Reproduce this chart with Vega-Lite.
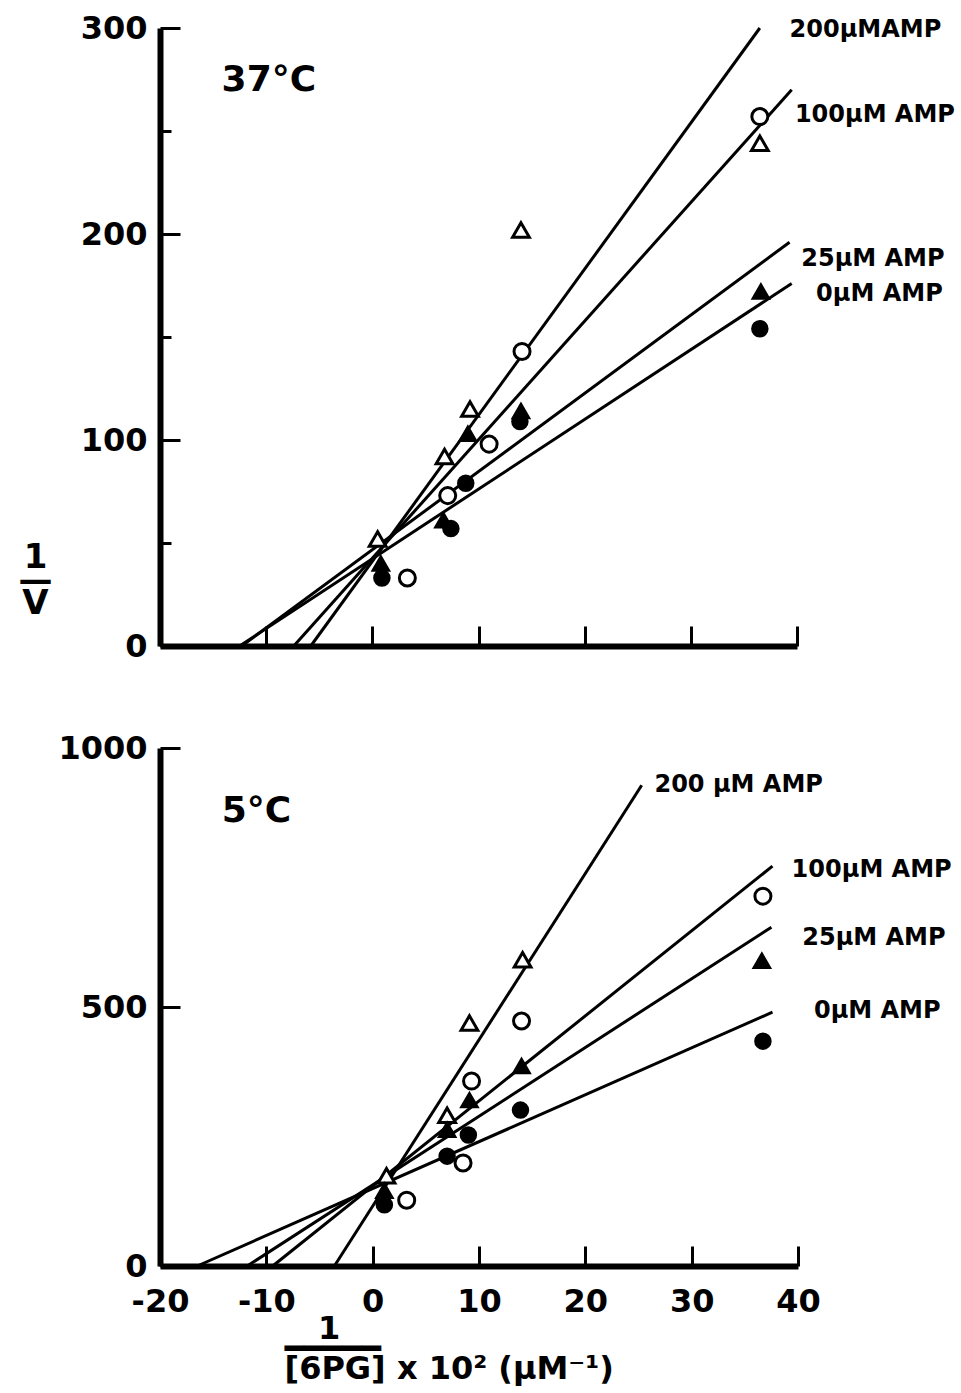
{
  "$schema": "https://vega.github.io/schema/vega-lite/v6.json",
  "background": "white",
  "padding": {"left": 18, "top": 12, "right": 0, "bottom": 10},
  "config": {
    "font": "DejaVu Sans",
    "view": {"stroke": null},
    "axis": {
      "grid": false,
      "domainColor": "black",
      "domainWidth": 6,
      "tickColor": "black",
      "tickWidth": 3,
      "labelColor": "black",
      "labelFontSize": 32,
      "labelFontWeight": "bold",
      "labelFlush": false,
      "titleColor": "black",
      "titleFontWeight": "bold"
    }
  },
  "datasets": {
    "lines37": [
      {"series": "200", "x": -5.8, "y": 0}, {"series": "200", "x": 36.5, "y": 300},
      {"series": "100", "x": -7.4, "y": 0}, {"series": "100", "x": 39.5, "y": 270},
      {"series": "25", "x": -12.3, "y": 0}, {"series": "25", "x": 39.3, "y": 196},
      {"series": "0", "x": -12.5, "y": 0}, {"series": "0", "x": 39.5, "y": 176}
    ],
    "pts37": [
      {"series": "200", "x": 36.5, "y": 244}, {"series": "200", "x": 14.0, "y": 202}, {"series": "200", "x": 9.2, "y": 115}, {"series": "200", "x": 6.8, "y": 92}, {"series": "200", "x": 0.5, "y": 52},
      {"series": "100", "x": 36.5, "y": 257}, {"series": "100", "x": 14.1, "y": 143}, {"series": "100", "x": 11.0, "y": 98}, {"series": "100", "x": 7.1, "y": 73}, {"series": "100", "x": 3.3, "y": 33},
      {"series": "25", "x": 36.6, "y": 172}, {"series": "25", "x": 14.0, "y": 114}, {"series": "25", "x": 9.0, "y": 103}, {"series": "25", "x": 6.7, "y": 61}, {"series": "25", "x": 0.8, "y": 40},
      {"series": "0", "x": 36.5, "y": 154}, {"series": "0", "x": 13.9, "y": 109}, {"series": "0", "x": 8.8, "y": 79}, {"series": "0", "x": 7.4, "y": 57}, {"series": "0", "x": 0.9, "y": 33}
    ],
    "labels37": [
      {"text": "200µMAMP", "x": 39.3, "y": 299},
      {"text": "100µM AMP", "x": 39.8, "y": 258},
      {"text": "25µM AMP", "x": 40.4, "y": 188},
      {"text": "0µM AMP", "x": 41.8, "y": 171}
    ],
    "lines5": [
      {"series": "200", "x": -3.6, "y": 0}, {"series": "200", "x": 25.3, "y": 928},
      {"series": "100", "x": -9.4, "y": 0}, {"series": "100", "x": 37.6, "y": 772},
      {"series": "25", "x": -11.8, "y": 0}, {"series": "25", "x": 37.5, "y": 654},
      {"series": "0", "x": -16.5, "y": 0}, {"series": "0", "x": 37.6, "y": 490}
    ],
    "pts5": [
      {"series": "200", "x": 14.1, "y": 591}, {"series": "200", "x": 9.1, "y": 469}, {"series": "200", "x": 7.0, "y": 291}, {"series": "200", "x": 1.3, "y": 174},
      {"series": "100", "x": 36.7, "y": 714}, {"series": "100", "x": 14.0, "y": 473}, {"series": "100", "x": 9.3, "y": 357}, {"series": "100", "x": 8.5, "y": 199}, {"series": "100", "x": 3.2, "y": 127},
      {"series": "25", "x": 36.6, "y": 589}, {"series": "25", "x": 14.0, "y": 386}, {"series": "25", "x": 9.1, "y": 320}, {"series": "25", "x": 7.0, "y": 263}, {"series": "25", "x": 1.1, "y": 145},
      {"series": "0", "x": 36.7, "y": 434}, {"series": "0", "x": 13.9, "y": 301}, {"series": "0", "x": 9.0, "y": 253}, {"series": "0", "x": 7.0, "y": 212}, {"series": "0", "x": 1.1, "y": 118}
    ],
    "labels5": [
      {"text": "200 µM AMP", "x": 26.5, "y": 928},
      {"text": "100µM AMP", "x": 39.4, "y": 764},
      {"text": "25µM AMP", "x": 40.4, "y": 633},
      {"text": "0µM AMP", "x": 41.5, "y": 492}
    ]
  },
  "spacing": 70,
  "vconcat": [
    {
      "width": 637,
      "height": 618,
      "resolve": {"axis": {"y": "independent"}},
      "layer": [
        {
          "data": {"name": "lines37"},
          "mark": {"type": "line", "color": "black", "strokeWidth": 3},
          "encoding": {
            "x": {"field": "x", "type": "quantitative", "scale": {"domain": [-20, 40], "nice": false, "zero": false},
                  "axis": {"values": [-20, -10, 0, 10, 20, 30, 40], "labels": false, "title": null, "tickSize": -20}},
            "y": {"field": "y", "type": "quantitative", "scale": {"domain": [0, 300], "nice": false},
                  "axis": {"values": [0, 100, 200, 300], "tickSize": -20, "labelPadding": 33,
                           "title": ["1", "—", "V"], "titleAngle": 0, "titleX": -125, "titleY": 512,
                           "titleAlign": "center", "titleBaseline": "top", "titleFontSize": 34, "titleLineHeight": 23}},
            "detail": {"field": "series"}
          }
        },
        {
          "data": {"name": "pts37"},
          "mark": {"type": "point", "filled": true, "stroke": "black", "strokeWidth": 3, "opacity": 1},
          "encoding": {
            "x": {"field": "x", "type": "quantitative"},
            "y": {"field": "y", "type": "quantitative",
                  "axis": {"values": [50, 150, 250], "tickSize": -11, "labels": false, "domain": false, "title": null, "orient": "left"}},
            "shape": {"field": "series", "type": "nominal", "scale": {"domain": ["0", "25", "100", "200"], "range": ["circle", "triangle-up", "circle", "triangle-up"]}, "legend": null},
            "fill": {"field": "series", "type": "nominal", "scale": {"domain": ["0", "25", "100", "200"], "range": ["black", "black", "white", "white"]}, "legend": null},
            "size": {"field": "series", "type": "nominal", "scale": {"domain": ["0", "25", "100", "200"], "range": [210, 280, 210, 280]}, "legend": null}
          }
        },
        {
          "data": {"name": "labels37"},
          "mark": {"type": "text", "align": "left", "baseline": "middle", "fontSize": 24, "fontWeight": "bold", "color": "black"},
          "encoding": {
            "x": {"field": "x", "type": "quantitative"},
            "y": {"field": "y", "type": "quantitative", "axis": null},
            "text": {"field": "text"}
          }
        },
        {
          "data": {"values": [{"text": "37°C", "x": -14.2, "y": 275}]},
          "mark": {"type": "text", "align": "left", "baseline": "middle", "fontSize": 36, "fontWeight": "bold", "color": "black"},
          "encoding": {
            "x": {"field": "x", "type": "quantitative"},
            "y": {"field": "y", "type": "quantitative", "axis": null},
            "text": {"field": "text"}
          }
        }
      ]
    },
    {
      "width": 638,
      "height": 518,
      "layer": [
        {
          "data": {"name": "lines5"},
          "mark": {"type": "line", "color": "black", "strokeWidth": 3},
          "encoding": {
            "x": {"field": "x", "type": "quantitative", "scale": {"domain": [-20, 40], "nice": false, "zero": false},
                  "axis": {"values": [-20, -10, 0, 10, 20, 30, 40], "tickSize": -20, "labelPadding": 40,
                           "labelExpr": "datum.value < 0 ? '-' + abs(datum.value) : '' + datum.value",
                           "title": ["\u200b\u00a0\u00a0\u00a01", "━━━━━", "[6PG] x 10² (µM⁻¹)"],
                           "titleAlign": "left", "titleX": 124, "titleY": 47, "titleBaseline": "top",
                           "titleFontSize": 32, "titleLineHeight": 20}},
            "y": {"field": "y", "type": "quantitative", "scale": {"domain": [0, 1000], "nice": false},
                  "axis": {"values": [0, 500, 1000], "format": "d", "tickSize": -20, "labelPadding": 33, "title": null}},
            "detail": {"field": "series"}
          }
        },
        {
          "data": {"name": "pts5"},
          "mark": {"type": "point", "filled": true, "stroke": "black", "strokeWidth": 3, "opacity": 1},
          "encoding": {
            "x": {"field": "x", "type": "quantitative"},
            "y": {"field": "y", "type": "quantitative"},
            "shape": {"field": "series", "type": "nominal", "scale": {"domain": ["0", "25", "100", "200"], "range": ["circle", "triangle-up", "circle", "triangle-up"]}, "legend": null},
            "fill": {"field": "series", "type": "nominal", "scale": {"domain": ["0", "25", "100", "200"], "range": ["black", "black", "white", "white"]}, "legend": null},
            "size": {"field": "series", "type": "nominal", "scale": {"domain": ["0", "25", "100", "200"], "range": [210, 280, 210, 280]}, "legend": null}
          }
        },
        {
          "data": {"name": "labels5"},
          "mark": {"type": "text", "align": "left", "baseline": "middle", "fontSize": 24, "fontWeight": "bold", "color": "black"},
          "encoding": {
            "x": {"field": "x", "type": "quantitative"},
            "y": {"field": "y", "type": "quantitative"},
            "text": {"field": "text"}
          }
        },
        {
          "data": {"values": [{"text": "5°C", "x": -14.2, "y": 878}]},
          "mark": {"type": "text", "align": "left", "baseline": "middle", "fontSize": 36, "fontWeight": "bold", "color": "black"},
          "encoding": {
            "x": {"field": "x", "type": "quantitative"},
            "y": {"field": "y", "type": "quantitative"},
            "text": {"field": "text"}
          }
        }
      ]
    }
  ]
}
